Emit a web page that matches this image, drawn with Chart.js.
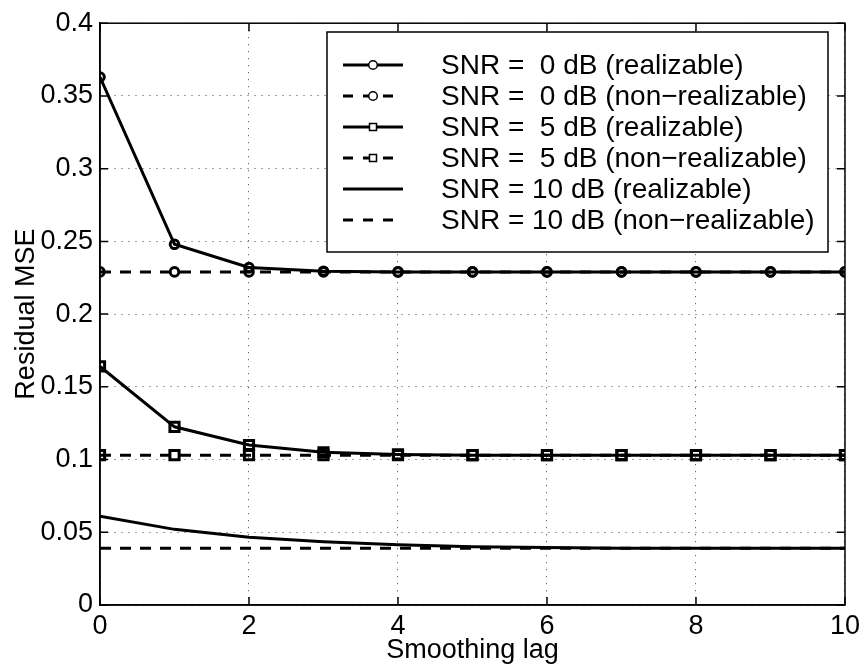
<!DOCTYPE html>
<html>
<head>
<meta charset="utf-8">
<script src="https://cdn.jsdelivr.net/npm/chart.js@4/dist/chart.umd.min.js"></script>
<style>
  html, body { margin: 0; padding: 0; background: #fff; }
  #wrap { width: 865px; height: 670px; }
</style>
</head>
<body>
<div id="wrap"><canvas id="mse-chart" width="865" height="670"></canvas></div>
<script>
// Data
const lags = [0, 1, 2, 3, 4, 5, 6, 7, 8, 9, 10];
const snr0Real = [0.363, 0.248, 0.232, 0.2295, 0.229, 0.229, 0.229, 0.229, 0.229, 0.229, 0.229];
const snr0NonReal = [0.229, 0.229, 0.229, 0.229, 0.229, 0.229, 0.229, 0.229, 0.229, 0.229, 0.229];
const snr5Real = [0.164, 0.1225, 0.110, 0.105, 0.1035, 0.103, 0.103, 0.103, 0.103, 0.103, 0.103];
const snr5NonReal = [0.103, 0.103, 0.103, 0.103, 0.103, 0.103, 0.103, 0.103, 0.103, 0.103, 0.103];
const snr10Real = [0.061, 0.052, 0.0465, 0.0435, 0.0415, 0.040, 0.0395, 0.039, 0.039, 0.039, 0.039];
const snr10NonReal = [0.039, 0.039, 0.039, 0.039, 0.039, 0.039, 0.039, 0.039, 0.039, 0.039, 0.039];
const legendLabels = [
  "SNR =  0 dB (realizable)",
  "SNR =  0 dB (non\u2212realizable)",
  "SNR =  5 dB (realizable)",
  "SNR =  5 dB (non\u2212realizable)",
  "SNR = 10 dB (realizable)",
  "SNR = 10 dB (non\u2212realizable)"
];

const FONT = "'Liberation Sans', Arial, Helvetica, sans-serif";
const DASH = [11, 9];

function series(label, values, dashed, marker) {
  return {
    label: label,
    data: lags.map((x, i) => ({ x: x, y: values[i] })),
    borderColor: "#000",
    backgroundColor: "rgba(0,0,0,0)",
    borderWidth: 3,
    borderDash: dashed ? DASH : [],
    tension: 0,
    fill: false,
    pointStyle: marker || false,
    pointRadius: marker === "rect" ? 6.5 : (marker ? 4.3 : 0),
    pointBorderWidth: 3,
    pointBorderColor: "#000",
    pointBackgroundColor: "rgba(0,0,0,0)"
  };
}

// box, inner ticks and the legend drawn on top of the plot
const framePlugin = {
  id: "frame",
  afterDraw(chart) {
    const c = chart.ctx;
    const a = chart.chartArea;
    const xs = chart.scales.x, ys = chart.scales.y;
    const tick = 8;
    c.save();
    c.strokeStyle = "#000";
    c.lineWidth = 1.5;
    c.strokeRect(a.left, a.top, a.right - a.left, a.bottom - a.top);
    c.beginPath();
    xs.ticks.forEach(t => {
      const px = xs.getPixelForValue(t.value);
      c.moveTo(px, a.bottom); c.lineTo(px, a.bottom - tick);
      c.moveTo(px, a.top); c.lineTo(px, a.top + tick);
    });
    ys.ticks.forEach(t => {
      const py = ys.getPixelForValue(t.value);
      c.moveTo(a.left, py); c.lineTo(a.left + tick, py);
      c.moveTo(a.right, py); c.lineTo(a.right - tick, py);
    });
    c.stroke();

    // legend box
    const bx = 327, by = 32, bw = 501, bh = 220;
    c.fillStyle = "#fff";
    c.fillRect(bx, by, bw, bh);
    c.lineWidth = 1.5;
    c.strokeRect(bx, by, bw, bh);
    c.font = "28px " + FONT;
    c.textBaseline = "middle";
    chart.data.datasets.forEach((ds, i) => {
      const y = 65 + i * 31;
      c.strokeStyle = "#000";
      c.lineWidth = 3;
      c.setLineDash(ds.borderDash.length ? [10, 10] : []);
      c.beginPath();
      c.moveTo(343, y); c.lineTo(403, y);
      c.stroke();
      c.setLineDash([]);
      if (ds.pointStyle) {
        c.lineWidth = 1.5;
        c.fillStyle = "#fff";
        c.beginPath();
        if (ds.pointStyle === "rect") c.rect(369.5, y - 3.5, 7, 7);
        else c.arc(373, y, 4.3, 0, Math.PI * 2);
        c.fill(); c.stroke();
      }
      c.fillStyle = "#000";
      c.fillText(ds.label, 441, y + 1);
    });
    c.restore();
  }
};

const ctx = document.getElementById("mse-chart").getContext("2d");
const mseChart = new Chart(ctx, {
  type: "line",
  data: {
    datasets: [
      series(legendLabels[0], snr0Real, false, "circle"),
      series(legendLabels[1], snr0NonReal, true, "circle"),
      series(legendLabels[2], snr5Real, false, "rect"),
      series(legendLabels[3], snr5NonReal, true, "rect"),
      series(legendLabels[4], snr10Real, false, null),
      series(legendLabels[5], snr10NonReal, true, null)
    ]
  },
  options: {
    responsive: false,
    animation: false,
    layout: { padding: { top: 17, right: 18, left: 0, bottom: 0 } },
    plugins: { legend: { display: false }, tooltip: { enabled: false } },
    scales: {
      x: {
        type: "linear",
        min: 0,
        max: 10,
        afterFit(scale) { scale.height = 65; },
        ticks: { stepSize: 2, color: "#000", font: { family: FONT, size: 27 }, padding: 5, maxRotation: 0 },
        grid: { color: "#444", lineWidth: 1, drawTicks: false },
        border: { display: true, color: "#000", width: 1.5, dash: [1, 6] },
        title: { display: true, text: "Smoothing lag", color: "#000", font: { family: FONT, size: 27 }, padding: { top: 0, bottom: 3 } }
      },
      y: {
        min: 0,
        max: 0.4,
        afterFit(scale) { scale.width = 100; },
        ticks: {
          stepSize: 0.05,
          color: "#000",
          font: { family: FONT, size: 27 },
          padding: 7,
          callback: v => String(Number(v.toFixed(2)))
        },
        grid: { color: "#444", lineWidth: 1, drawTicks: false },
        border: { display: true, color: "#000", width: 1.5, dash: [1, 6] },
        title: { display: true, text: "Residual MSE", color: "#000", font: { family: FONT, size: 27 }, padding: { top: 10, bottom: 0 } }
      }
    }
  },
  plugins: [framePlugin]
});
</script>
</body>
</html>
